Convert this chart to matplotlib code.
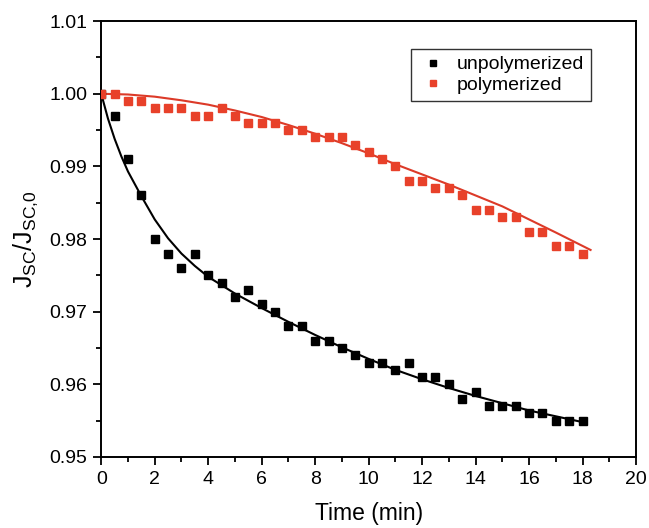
import numpy as np
import matplotlib
matplotlib.use("Agg")
import matplotlib.pyplot as plt
from matplotlib.ticker import MultipleLocator

plt.rcParams['font.family'] = ['Liberation Sans', 'DejaVu Sans']
plt.rcParams['mathtext.fontset'] = 'custom'
plt.rcParams['mathtext.rm'] = 'Liberation Sans'

# measured points, time in min
t = np.arange(0, 18.5, 0.5)
unpolymerized = [1.000, 0.997, 0.991, 0.986, 0.980, 0.978, 0.976, 0.978, 0.975, 0.974,
                 0.972, 0.973, 0.971, 0.970, 0.968, 0.968, 0.966, 0.966, 0.965, 0.964,
                 0.963, 0.963, 0.962, 0.963, 0.961, 0.961, 0.960, 0.958, 0.959, 0.957,
                 0.957, 0.957, 0.956, 0.956, 0.955, 0.955, 0.955]
polymerized = [1.000, 1.000, 0.999, 0.999, 0.998, 0.998, 0.998, 0.997, 0.997, 0.998,
               0.997, 0.996, 0.996, 0.996, 0.995, 0.995, 0.994, 0.994, 0.994, 0.993,
               0.992, 0.991, 0.990, 0.988, 0.988, 0.987, 0.987, 0.986, 0.984, 0.984,
               0.983, 0.983, 0.981, 0.981, 0.979, 0.979, 0.978]

# fitted curves
fit_t_unpol = [0, 0.25, 0.5, 0.75, 1, 1.5, 2, 2.5, 3, 3.5, 4, 5, 6, 7, 8, 9, 10,
               11, 12, 13, 14, 15, 16, 17, 18]
fit_unpol = [1.0000, 0.9966, 0.9938, 0.9914, 0.9893, 0.9859, 0.9827, 0.9801, 0.9780,
             0.9763, 0.9748, 0.9725, 0.9705, 0.9686, 0.9668, 0.9651, 0.9635, 0.9620,
             0.9607, 0.9595, 0.9584, 0.9574, 0.9564, 0.9556, 0.9548]
fit_t_pol = [0, 1, 2, 3, 4, 5, 6, 7, 8, 9, 10, 11, 12, 13, 14, 15, 16, 17, 18.3]
fit_pol = [1.0000, 0.9999, 0.9996, 0.9991, 0.9985, 0.9977, 0.9968, 0.9957, 0.9945,
           0.9932, 0.9918, 0.9903, 0.9889, 0.9875, 0.9860, 0.9845, 0.9827, 0.9809,
           0.9785]

red = '#e8412a'

fig = plt.figure(figsize=(6.49, 5.28), dpi=100)
ax = fig.add_axes([0.156, 0.1345, 0.824, 0.8255])

ax.plot(fit_t_unpol, fit_unpol, color='black', lw=1.5, zorder=2)
ax.plot(fit_t_pol, fit_pol, color='#dc3a28', lw=1.5, zorder=2)
ax.plot(t, unpolymerized, 's', color='black', ms=5.5, ls='none',
        label='unpolymerized', zorder=3)
ax.plot(t, polymerized, 's', color=red, ms=5.5, ls='none',
        label='polymerized', zorder=4)

ax.set_xlim(0, 20)
ax.set_ylim(0.95, 1.01)
ax.xaxis.set_major_locator(MultipleLocator(2))
ax.xaxis.set_minor_locator(MultipleLocator(1))
ax.yaxis.set_major_locator(MultipleLocator(0.01))
ax.yaxis.set_minor_locator(MultipleLocator(0.005))
ax.yaxis.set_major_formatter(plt.FormatStrFormatter('%.2f'))
ax.tick_params(which='both', direction='out', width=1.3, labelsize=14,
               top=False, right=False)
ax.tick_params(which='major', length=6, pad=4)
ax.tick_params(which='minor', length=3.5)
for s in ax.spines.values():
    s.set_linewidth(1.4)

ax.set_xlabel('Time (min)', fontsize=16.5, labelpad=10)
ax.set_ylabel(r'$\mathregular{J_{SC}/J_{SC{,}0}}$', fontsize=18, labelpad=7)

leg = ax.legend(loc='upper right', bbox_to_anchor=(0.916, 0.936), fontsize=14,
                frameon=True, fancybox=False, edgecolor='black', markerscale=0.8,
                handlelength=1.5, handletextpad=0.5, borderpad=0.35,
                labelspacing=0.15, borderaxespad=0)
leg.get_frame().set_linewidth(1.0)

fig.savefig('out.png', dpi=100)
